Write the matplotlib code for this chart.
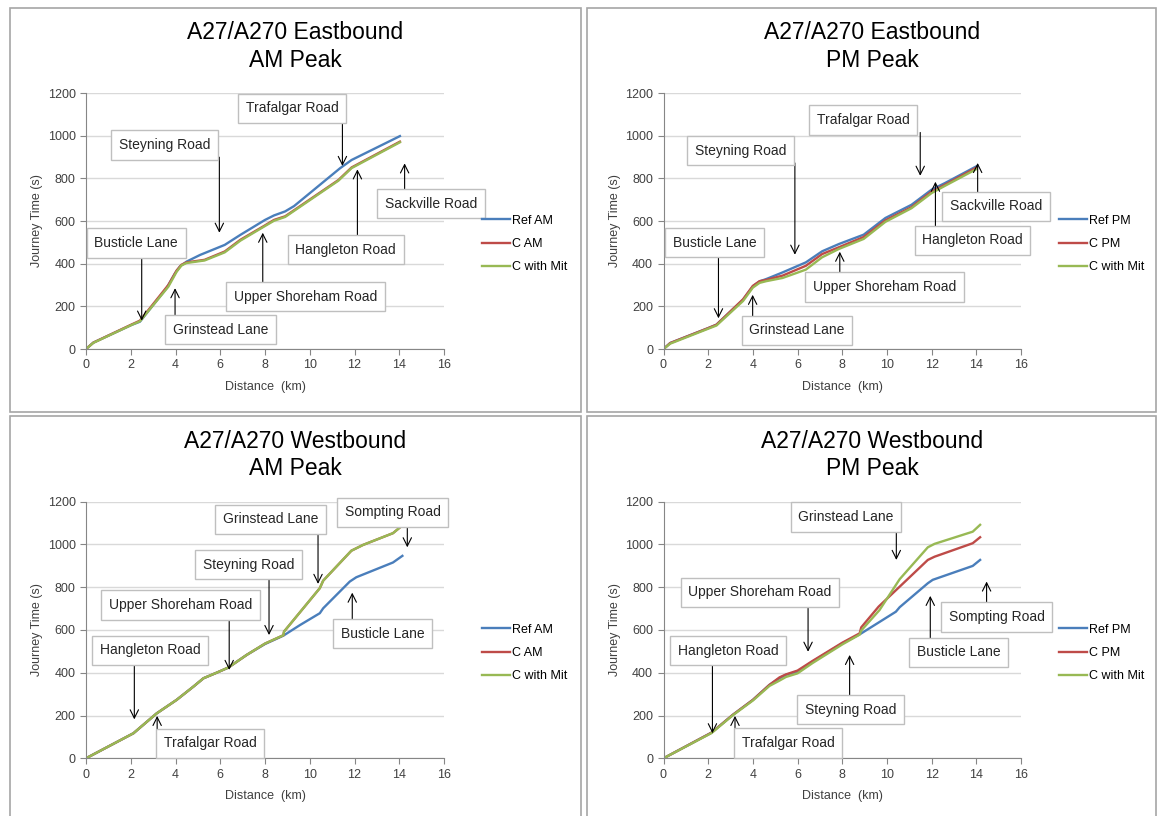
import matplotlib
matplotlib.use('Agg')
import matplotlib.pyplot as plt
from matplotlib.patches import Rectangle

plt.rcParams['font.family'] = ['Liberation Sans', 'DejaVu Sans']

# ---- Eastbound AM ----
eb_am_ref_x = [0, 0.33, 2.04, 2.41, 3.6, 3.98, 4.2, 4.5, 5.1, 6.2, 6.9, 8.0, 8.4, 8.9, 9.3, 11.35, 11.87, 14.03]
eb_am_ref_y = [0, 30, 113, 128, 285, 355, 387, 410, 441, 488, 535, 605, 626, 645, 670, 847, 886, 998]
eb_am_c_x = [0, 0.33, 2.04, 2.41, 3.68, 4.05, 4.27, 4.49, 5.3, 6.2, 6.9, 7.96, 8.4, 8.9, 11.28, 11.87, 14.03]
eb_am_c_y = [0, 30, 115, 133, 300, 368, 395, 406, 418, 457, 512, 577, 605, 622, 792, 851, 972]
eb_am_mit_y = [0, 29, 113, 130, 292, 362, 392, 403, 415, 453, 508, 574, 601, 619, 789, 848, 969]

# ---- Eastbound PM ----
eb_pm_x = [0, 0.3, 2.0, 2.37, 3.56, 4.0, 4.3, 4.6, 5.33, 6.37, 7.1, 7.85, 8.96, 9.93, 11.1, 12.0, 12.6, 14.0]
eb_pm_ref_y = [0, 28, 98, 114, 231, 294, 317, 328, 359, 406, 458, 492, 536, 614, 676, 747, 778, 856]
eb_pm_c_y = [0, 28, 98, 114, 233, 296, 318, 324, 344, 390, 445, 477, 525, 603, 665, 738, 770, 850]
eb_pm_mit_y = [0, 25, 95, 110, 225, 288, 310, 318, 333, 372, 430, 469, 516, 596, 660, 731, 765, 843]

# ---- Westbound AM ----
wb_am_ref_x = [0, 2.12, 3.16, 4.05, 4.8, 5.25, 5.84, 6.36, 7.18, 8.0, 8.82, 9.57, 10.45, 10.6, 11.79, 12.08, 13.72, 14.14]
wb_am_ref_y = [0, 117, 210, 273, 335, 374, 400, 424, 483, 534, 573, 623, 678, 701, 826, 846, 915, 946]
wb_am_c_x = [0, 2.12, 3.16, 4.05, 4.8, 5.25, 5.84, 6.36, 7.18, 8.0, 8.82, 8.85, 10.45, 10.6, 11.86, 12.38, 13.72, 14.17]
wb_am_c_y = [0, 117, 210, 273, 335, 374, 400, 424, 483, 536, 575, 592, 795, 830, 970, 997, 1052, 1091]
wb_am_mit_y = [0, 117, 210, 273, 335, 374, 400, 424, 483, 536, 575, 592, 795, 830, 970, 997, 1052, 1091]

# ---- Westbound PM ----
wb_pm_ref_x = [0, 2.15, 3.1, 4.0, 4.74, 5.19, 5.48, 6.0, 6.67, 8.0, 8.81, 10.4, 10.57, 11.83, 12.05, 13.84, 14.17]
wb_pm_ref_y = [0, 120, 203, 273, 343, 374, 390, 405, 452, 537, 581, 685, 706, 818, 834, 899, 927]
wb_pm_c_x = [0, 2.15, 3.1, 4.0, 4.74, 5.19, 5.48, 6.0, 6.67, 8.0, 8.78, 8.85, 9.63, 10.57, 11.83, 12.13, 13.84, 14.17]
wb_pm_c_y = [0, 120, 203, 273, 343, 378, 392, 410, 455, 540, 584, 612, 709, 802, 927, 942, 1005, 1033]
wb_pm_mit_x = [0, 2.15, 3.1, 4.0, 4.74, 5.19, 5.48, 6.0, 6.67, 8.0, 8.78, 8.85, 9.67, 10.57, 11.83, 12.13, 13.84, 14.17]
wb_pm_mit_y = [0, 118, 201, 270, 338, 363, 380, 397, 445, 532, 578, 597, 693, 837, 986, 1002, 1059, 1091]

colors = ['#4a7ebb', '#be4b48', '#98b954']

# Подписи: текст, центр рамки, начало стрелки, конец стрелки
eb_am_notes = [
    ('Trafalgar Road', (9.21, 1129), (11.46, 1070), (11.46, 858)),
    ('Steyning Road', (3.51, 956), (5.96, 899), (5.96, 545)),
    ('Busticle Lane', (2.24, 497), (2.49, 441), (2.49, 133)),
    ('Grinstead Lane', (6.01, 90), (3.98, 151), (3.98, 285)),
    ('Upper Shoreham Road', (9.81, 245), (7.9, 303), (7.9, 545)),
    ('Hangleton Road', (11.6, 466), (12.13, 524), (12.13, 842)),
    ('Sackville Road', (15.41, 681), (14.24, 737), (14.24, 870)),
]
eb_pm_notes = [
    ('Trafalgar Road', (8.95, 1073), (11.49, 1015), (11.49, 812)),
    ('Steyning Road', (3.46, 929), (5.88, 872), (5.88, 442)),
    ('Busticle Lane', (2.29, 498), (2.46, 437), (2.46, 144)),
    ('Grinstead Lane', (5.98, 88), (3.99, 150), (3.99, 254)),
    ('Upper Shoreham Road', (9.9, 290), (7.89, 348), (7.89, 456)),
    ('Hangleton Road', (13.83, 509), (12.17, 570), (12.17, 784)),
    ('Sackville Road', (14.89, 669), (14.06, 731), (14.06, 872)),
]
wb_am_notes = [
    ('Grinstead Lane', (8.26, 1116), (10.37, 1059), (10.37, 815)),
    ('Sompting Road', (13.7, 1149), (14.36, 1094), (14.36, 986)),
    ('Steyning Road', (7.25, 904), (8.18, 846), (8.18, 576)),
    ('Upper Shoreham Road', (4.22, 717), (6.4, 659), (6.4, 413)),
    ('Hangleton Road', (2.88, 504), (2.16, 447), (2.16, 182)),
    ('Trafalgar Road', (5.55, 70), (3.18, 129), (3.18, 198)),
    ('Busticle Lane', (13.25, 583), (11.9, 642), (11.9, 774)),
]
wb_pm_notes = [
    ('Grinstead Lane', (8.17, 1128), (10.42, 1067), (10.42, 927)),
    ('Upper Shoreham Road', (4.31, 775), (6.47, 717), (6.47, 498)),
    ('Hangleton Road', (2.9, 503), (2.19, 444), (2.19, 117)),
    ('Trafalgar Road', (5.59, 71), (3.2, 129), (3.2, 198)),
    ('Steyning Road', (8.37, 228), (8.33, 288), (8.33, 483)),
    ('Busticle Lane', (13.2, 495), (11.94, 553), (11.94, 759)),
    ('Sompting Road', (14.92, 660), (14.46, 717), (14.46, 826)),
]

W, H = 1159, 816
fig = plt.figure(figsize=(W / 100, H / 100), dpi=100)


def px_box(x0, y0, x1, y1):
    # пиксели (от верхнего левого угла) -> доли фигуры
    return [x0 / W, 1 - y1 / H, (x1 - x0) / W, (y1 - y0) / H]


# Рамки панелей
for x0, y0, x1, y1 in [(10, 8, 580.7, 411.7), (587.3, 8, 1156, 411.7),
                       (10, 416, 580.7, 830), (587.3, 416, 1156, 830)]:
    fig.add_artist(Rectangle((x0 / W, 1 - y1 / H), (x1 - x0) / W, (y1 - y0) / H,
                             transform=fig.transFigure, fill=False,
                             edgecolor='#a6a6a6', lw=1.2))


def draw_panel(box, title, series, labels, notes, title_y):
    ax = fig.add_axes(px_box(*box))
    for (x, y), lab, col in zip(series, labels, colors):
        ax.plot(x, y, color=col, lw=1.7, label=lab)
    ax.set_xlim(0, 16)
    ax.set_ylim(0, 1200)
    ax.set_xticks(range(0, 17, 2))
    ax.set_yticks(range(0, 1201, 200))
    ax.yaxis.grid(True, color='#d9d9d9', lw=1)
    ax.set_axisbelow(True)
    for s in ['top', 'right']:
        ax.spines[s].set_visible(False)
    for s in ['left', 'bottom']:
        ax.spines[s].set_color('#868686')
    ax.tick_params(length=4, color='#868686', labelsize=9, labelcolor='#404040')
    ax.set_xlabel('Distance  (km)', fontsize=9, color='#404040', labelpad=7)
    ax.set_ylabel('Journey Time (s)', fontsize=9, color='#404040', labelpad=3)
    ax.legend(loc='center left', bbox_to_anchor=(1.105, 0.41), frameon=False,
              fontsize=9, handlelength=2.3, handletextpad=0.1, labelspacing=0.9,
              borderaxespad=0, borderpad=0)

    for text, (tx, ty), (sx, sy), (hx, hy) in notes:
        ax.annotate('', xy=(hx, hy), xytext=(sx, sy), annotation_clip=False,
                    arrowprops=dict(arrowstyle='->,head_length=0.6,head_width=0.3',
                                    color='black', lw=0.8, shrinkA=0, shrinkB=0))
        ax.text(tx, ty, text, ha='center', va='center', fontsize=10, zorder=5,
                color='#262626',
                bbox=dict(boxstyle='square,pad=0.55', fc='white', ec='#bfbfbf', lw=1))

    cx = (box[0] - 86 + 295) / W
    fig.text(cx, 1 - title_y / H, title, ha='center', va='center',
             fontsize=16.5, linespacing=1.27)


draw_panel((86, 93, 444, 349), 'A27/A270 Eastbound\nAM Peak',
           [(eb_am_ref_x, eb_am_ref_y), (eb_am_c_x, eb_am_c_y), (eb_am_c_x, eb_am_mit_y)],
           ['Ref AM', 'C AM', 'C with Mit'], eb_am_notes, 46.5)
draw_panel((663.5, 93, 1021, 349), 'A27/A270 Eastbound\nPM Peak',
           [(eb_pm_x, eb_pm_ref_y), (eb_pm_x, eb_pm_c_y), (eb_pm_x, eb_pm_mit_y)],
           ['Ref PM', 'C PM', 'C with Mit'], eb_pm_notes, 46.5)
draw_panel((86, 501.5, 444, 758.3), 'A27/A270 Westbound\nAM Peak',
           [(wb_am_ref_x, wb_am_ref_y), (wb_am_c_x, wb_am_c_y), (wb_am_c_x, wb_am_mit_y)],
           ['Ref AM', 'C AM', 'C with Mit'], wb_am_notes, 455)
draw_panel((663.5, 501.5, 1021, 758.3), 'A27/A270 Westbound\nPM Peak',
           [(wb_pm_ref_x, wb_pm_ref_y), (wb_pm_c_x, wb_pm_c_y), (wb_pm_mit_x, wb_pm_mit_y)],
           ['Ref PM', 'C PM', 'C with Mit'], wb_pm_notes, 455)

fig.savefig('out.png', dpi=100)
